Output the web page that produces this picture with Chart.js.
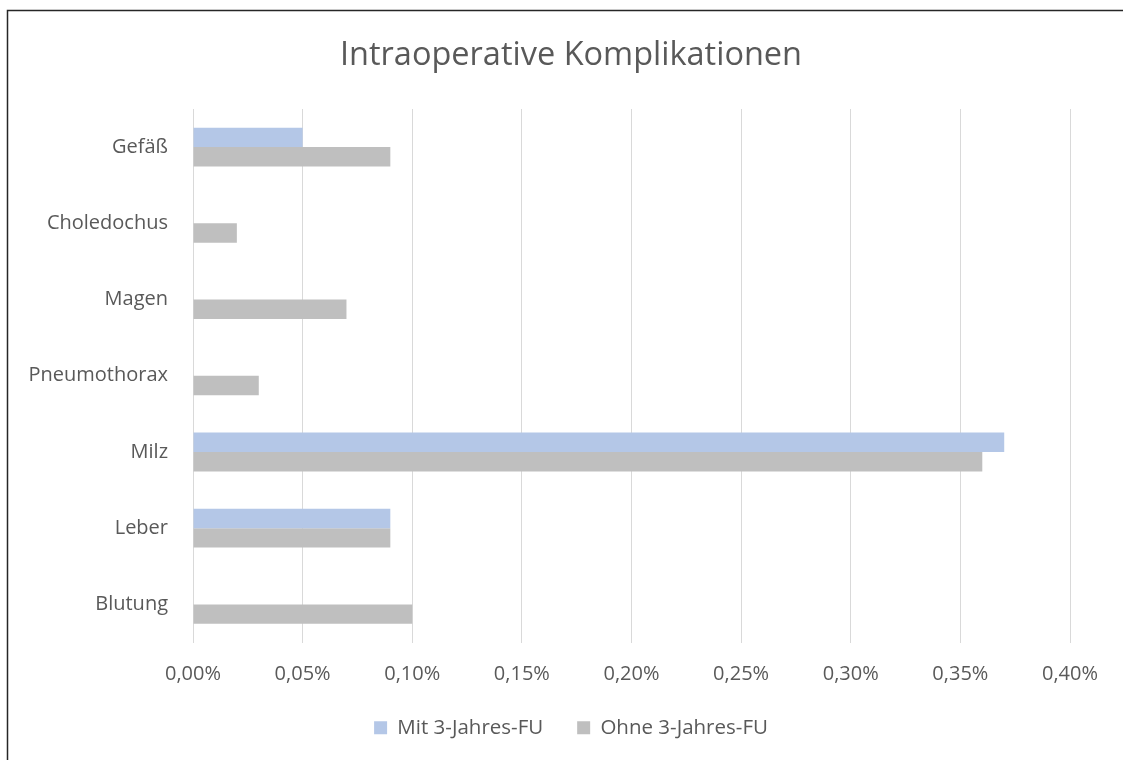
<!DOCTYPE html>
<html>
<head>
<meta charset="utf-8">
<script src="https://cdn.jsdelivr.net/npm/chart.js@4/dist/chart.umd.min.js"></script>
<style>
  html, body { margin: 0; padding: 0; background: #ffffff; }
  canvas { display: block; }
</style>
</head>
<body>
<canvas id="c" width="1123" height="760"></canvas>
<script>
const categories = ['Gefäß', 'Choledochus', 'Magen', 'Pneumothorax', 'Milz', 'Leber', 'Blutung'];
const mitValues = [0.05, 0, 0, 0, 0.37, 0.09, 0];
const ohneValues = [0.09, 0.02, 0.07, 0.03, 0.36, 0.09, 0.10];
const xTickLabels = ['0,00%', '0,05%', '0,10%', '0,15%', '0,20%', '0,25%', '0,30%', '0,35%', '0,40%'];
const seriesNames = ['Mit 3-Jahres-FU', 'Ohne 3-Jahres-FU'];
const titleText = 'Intraoperative Komplikationen';

const FONT = "'Open Sans', sans-serif";
const TEXT = '#595959';

const frame = {
  id: 'frame',
  beforeDraw(chart) {
    const ctx = chart.ctx;
    ctx.save();
    ctx.fillStyle = '#ffffff';
    ctx.fillRect(0, 0, chart.width, chart.height);
    ctx.restore();
  },
  afterDraw(chart) {
    const ctx = chart.ctx;
    ctx.save();
    ctx.strokeStyle = '#262626';
    ctx.lineWidth = 1.5;
    ctx.beginPath();
    ctx.moveTo(7.5, chart.height);
    ctx.lineTo(7.5, 10.5);
    ctx.lineTo(chart.width, 10.5);
    ctx.stroke();
    ctx.restore();
  }
};

new Chart(document.getElementById('c'), {
  type: 'bar',
  data: {
    labels: categories,
    datasets: [
      { label: seriesNames[0], data: mitValues, backgroundColor: '#B4C7E7', borderWidth: 0 },
      { label: seriesNames[1], data: ohneValues, backgroundColor: '#BFBFBF', borderWidth: 0 }
    ]
  },
  options: {
    indexAxis: 'y',
    responsive: false,
    animation: false,
    devicePixelRatio: 1,
    categoryPercentage: 0.51,
    barPercentage: 1.0,
    layout: { padding: { left: 28, right: 9, top: 0, bottom: 12 } },
    plugins: {
      title: {
        display: true,
        text: titleText,
        color: TEXT,
        font: { family: FONT, size: 32.5, weight: 'normal', lineHeight: 1.2 },
        padding: { top: 36, bottom: 34 }
      },
      legend: {
        display: true,
        position: 'bottom',
        labels: {
          color: TEXT,
          font: { family: FONT, size: 20.5 },
          boxWidth: 13,
          boxHeight: 13,
          padding: 34
        }
      },
      tooltip: { enabled: false }
    },
    scales: {
      x: {
        min: 0,
        max: 0.4,
        ticks: {
          stepSize: 0.05,
          color: TEXT,
          font: { family: FONT, size: 20 },
          padding: 20,
          maxRotation: 0,
          callback: (v, i) => xTickLabels[i]
        },
        grid: { color: '#D9D9D9', lineWidth: 1, drawTicks: false },
        border: { display: false },
        afterFit: (s) => { s.height = 41; }
      },
      y: {
        ticks: {
          color: TEXT,
          font: { family: FONT, size: 20 },
          padding: 25
        },
        grid: { display: false, drawTicks: false },
        border: { display: false },
        afterFit: (s) => { s.width = 165; }
      },
      yRight: {
        type: 'category',
        position: 'right',
        labels: categories,
        ticks: { display: false },
        grid: { display: false, drawTicks: false },
        border: { display: false },
        afterFit: (s) => { s.width = 44; }
      }
    }
  },
  plugins: [frame]
});
</script>
</body>
</html>
